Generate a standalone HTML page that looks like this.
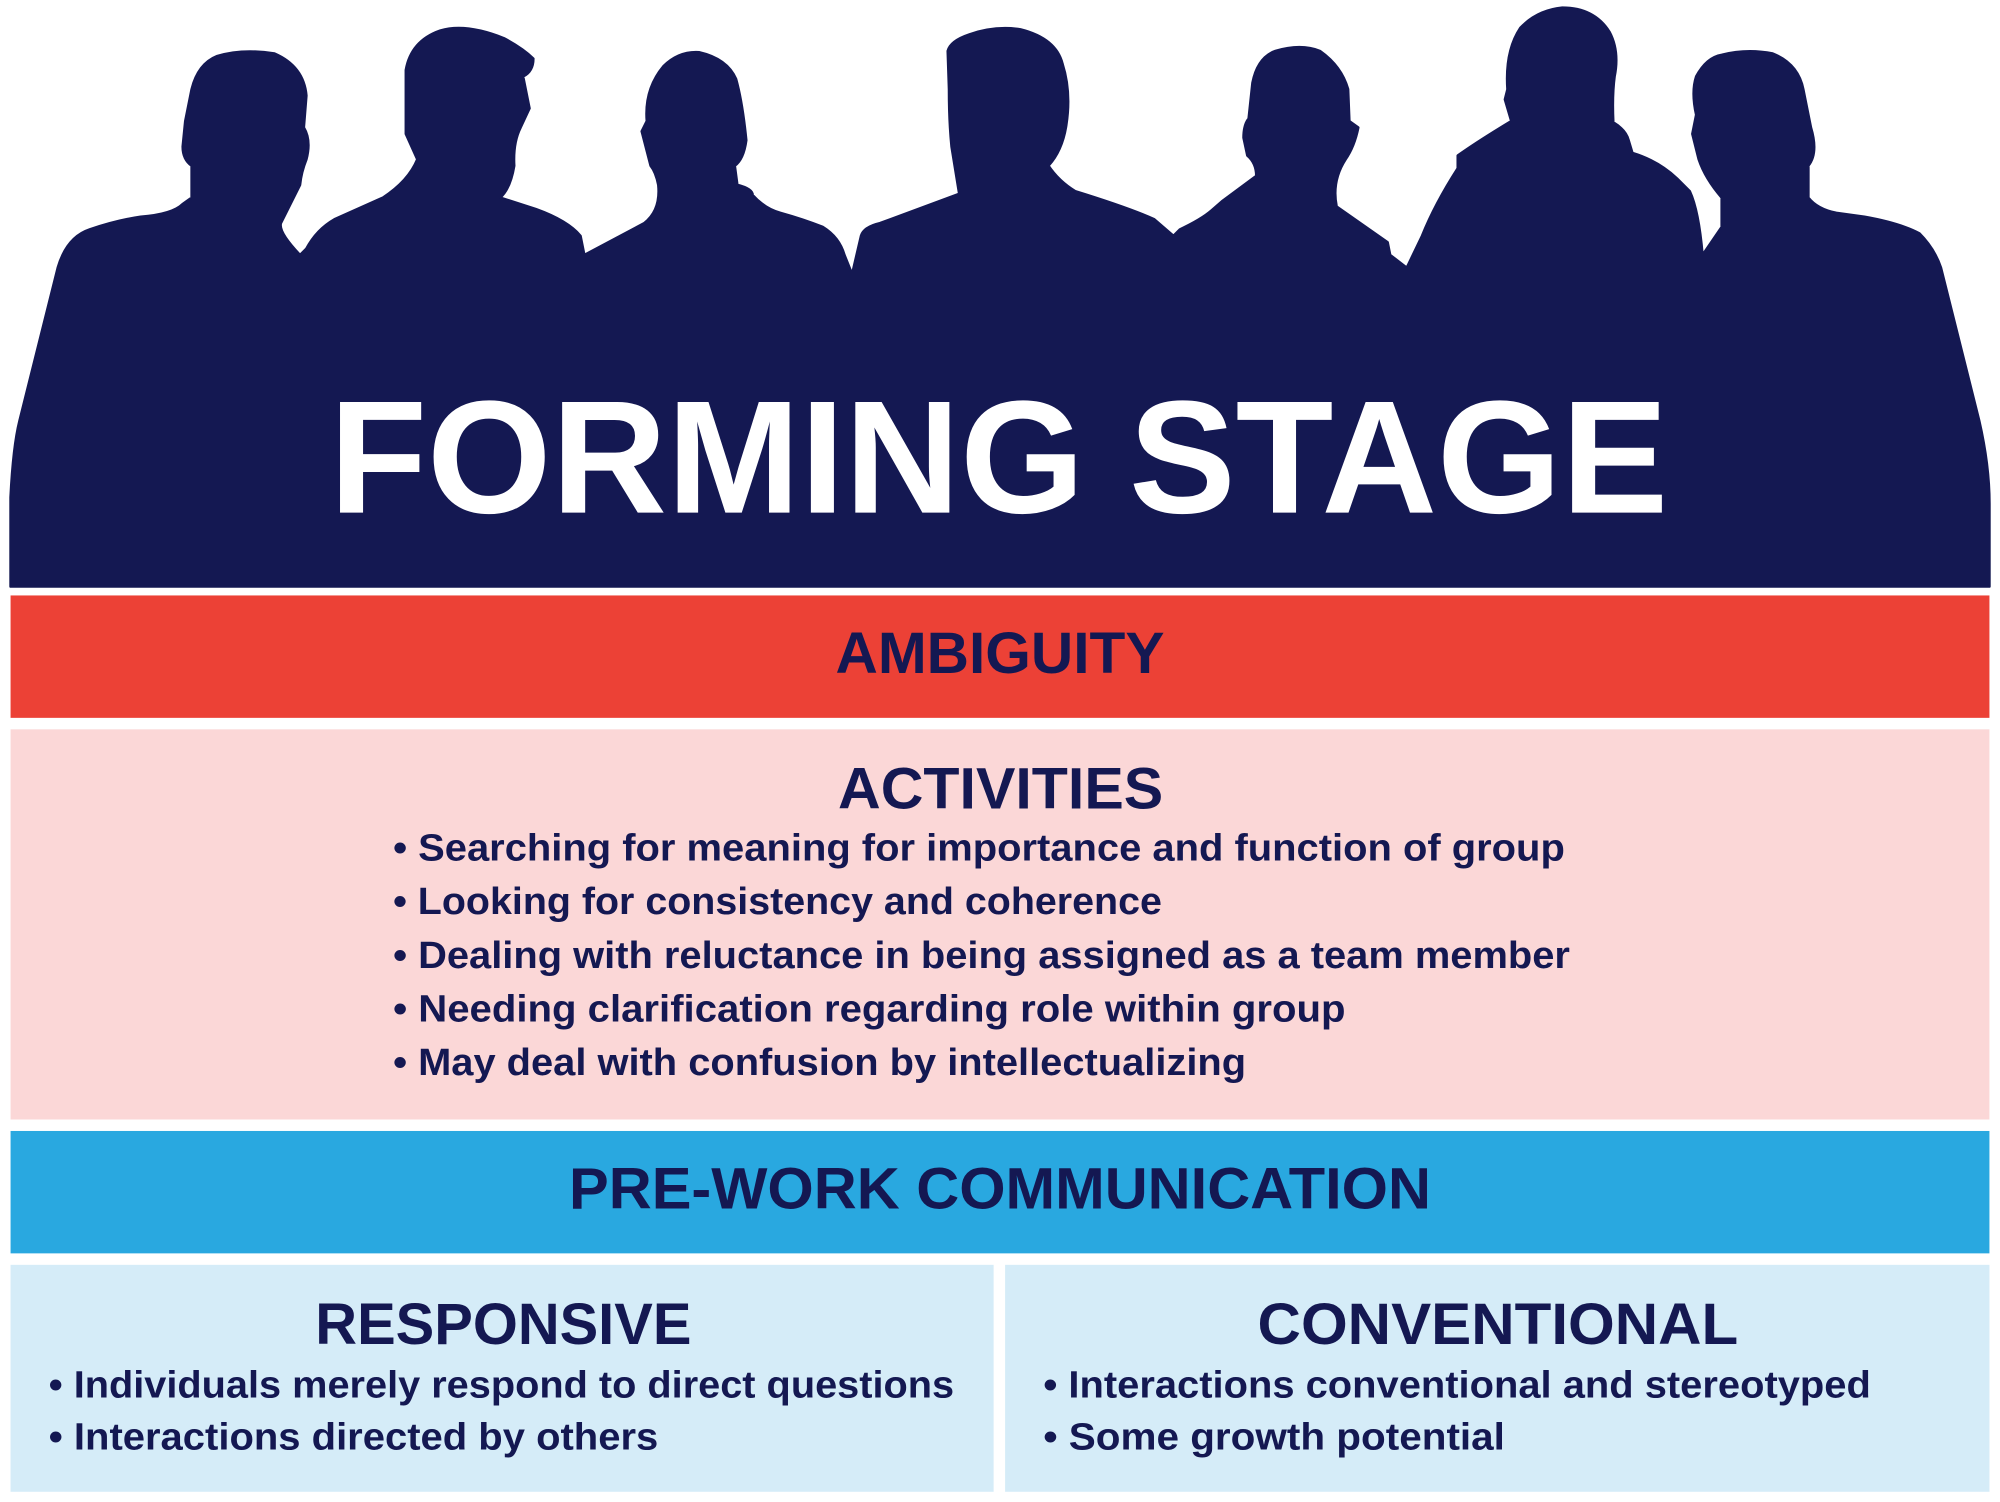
<!DOCTYPE html>
<html><head><meta charset="utf-8"><style>
html,body{margin:0;padding:0;background:#fff;}
svg{display:block;}
text{font-family:"Liberation Sans",sans-serif;font-weight:bold;fill:#141852;}
</style></head><body>
<svg width="2000" height="1502" viewBox="0 0 1568 1178" xmlns="http://www.w3.org/2000/svg">
<rect width="1568" height="1178" fill="#fff"/>
<path fill="#141852" stroke="#141852" stroke-width="2" stroke-linejoin="round" d="M8,460 L8,390 Q10,350 15,330 L45,210 Q52,186 70,180 Q90,173 110,170 Q135,168 143,160 L150,155 L150,130 Q143,125 143,115 L145,95 L150,70 Q155,50 170,44 Q190,38 215,42 Q238,52 240,75 L238,100 Q244,110 240,125 Q236,135 235,145 L220,175 Q218,182 235,200
L240,195 Q248,180 262,172 L300,155 Q320,142 327,125 L318,105 L318,55 Q322,32 345,24 Q365,18 395,30 Q410,38 418,46 Q418,56 410,60 L415,85 L408,100 Q402,112 403,130 Q400,148 392,155 L420,164 Q445,173 455,185 L458,200
L505,175 Q518,165 516,145 Q514,135 510,130 L503,103 L507,95 Q505,70 520,52 Q532,40 548,41 Q570,46 577,62 Q582,80 585,110 Q583,125 576,130 L578,145 Q590,148 590,153 Q600,164 612,167 Q630,172 645,178 Q658,186 662,200 L668,215
L675,185 Q677,178 690,175 L752,152 L746,115 Q744,95 744,70 L743,40 Q745,32 760,27 Q780,20 800,23 Q828,30 833,50 Q840,72 836,98 Q833,118 822,130 Q830,142 843,150 Q885,163 905,172 L920,185
L925,180 Q942,172 950,165 L958,158 L985,138 Q985,128 978,122 L975,108 Q975,98 979,93 L982,65 Q986,45 1000,40 Q1020,34 1035,40 Q1052,52 1057,70 L1058,95 L1065,100 Q1062,115 1055,125 Q1044,142 1048,162 L1088,190 L1090,200 L1103,210
L1115,185 Q1125,160 1143,132 L1143,122 Q1160,110 1185,95 L1180,78 L1182,70 Q1180,40 1192,22 Q1205,8 1225,6 Q1250,6 1262,25 Q1270,40 1266,60 Q1264,75 1265,96 Q1275,102 1277,110 L1280,120 Q1300,126 1315,140 L1325,150 Q1332,165 1335,200
L1350,178 L1350,155 Q1337,140 1332,125 L1327,105 L1330,90 Q1326,72 1330,60 Q1338,45 1350,43 Q1370,38 1390,42 Q1410,50 1414,70 L1420,100 Q1426,120 1418,130 L1418,155 Q1425,164 1440,167 L1462,170 Q1490,175 1505,183 Q1517,195 1522,210 L1552,330 Q1560,365 1560,395 L1560,460 Z"/>
<text x="258" y="402" font-size="126" fill="#fff" style="fill:#fff" textLength="1050" lengthAdjust="spacingAndGlyphs">FORMING STAGE</text>

<rect x="8" y="467" width="1552" height="96" fill="#ec4136"/>
<text x="655" y="528" font-size="46" textLength="258" lengthAdjust="spacingAndGlyphs">AMBIGUITY</text>

<rect x="8" y="572" width="1552" height="306" fill="#fbd7d7"/>
<text x="657" y="634" font-size="46" textLength="255" lengthAdjust="spacingAndGlyphs">ACTIVITIES</text>
<g font-size="30">
<text x="308" y="675" textLength="919" lengthAdjust="spacingAndGlyphs">• Searching for meaning for importance and function of group</text>
<text x="308" y="717" textLength="603" lengthAdjust="spacingAndGlyphs">• Looking for consistency and coherence</text>
<text x="308" y="759" textLength="923" lengthAdjust="spacingAndGlyphs">• Dealing with reluctance in being assigned as a team member</text>
<text x="308" y="801" textLength="747" lengthAdjust="spacingAndGlyphs">• Needing clarification regarding role within group</text>
<text x="308" y="843" textLength="669" lengthAdjust="spacingAndGlyphs">• May deal with confusion by intellectualizing</text>
</g>

<rect x="8" y="887" width="1552" height="96" fill="#29a8e0"/>
<text x="446" y="948" font-size="46" textLength="676" lengthAdjust="spacingAndGlyphs">PRE-WORK COMMUNICATION</text>

<rect x="8" y="992" width="771" height="178" fill="#d5ecf8"/>
<rect x="788" y="992" width="772" height="178" fill="#d5ecf8"/>
<text x="247" y="1054" font-size="46" textLength="295" lengthAdjust="spacingAndGlyphs">RESPONSIVE</text>
<text x="986" y="1054" font-size="46" textLength="377" lengthAdjust="spacingAndGlyphs">CONVENTIONAL</text>
<g font-size="30">
<text x="38" y="1096" textLength="710" lengthAdjust="spacingAndGlyphs">• Individuals merely respond to direct questions</text>
<text x="38" y="1137" textLength="478" lengthAdjust="spacingAndGlyphs">• Interactions directed by others</text>
<text x="818" y="1096" textLength="649" lengthAdjust="spacingAndGlyphs">• Interactions conventional and stereotyped</text>
<text x="818" y="1137" textLength="362" lengthAdjust="spacingAndGlyphs">• Some growth potential</text>
</g>
</svg>
</body></html>
